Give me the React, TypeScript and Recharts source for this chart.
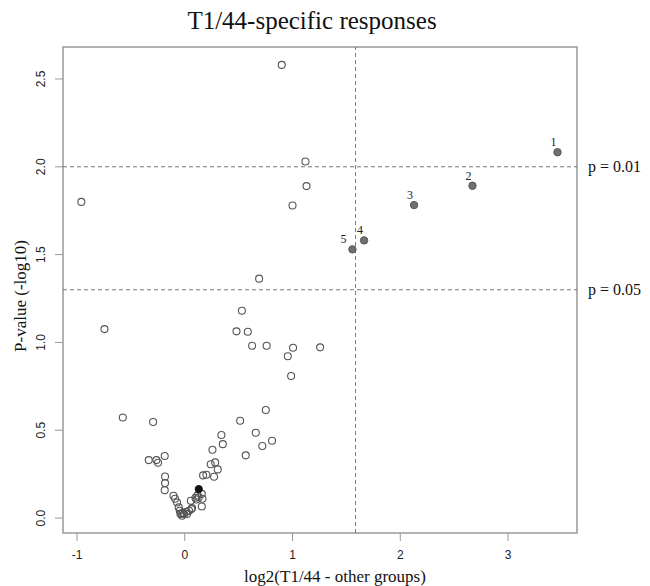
import React from "react";
import {
  ScatterChart,
  Scatter,
  XAxis,
  YAxis,
  ReferenceLine,
  ReferenceArea,
} from "recharts";

// open circles (log2 ratio, -log10 p)
const openX = [
  -0.96, 0.9, 1.12, 1.13, 1.0, -0.745, 0.69, 0.53, 0.48, 0.585, 0.625, 0.76,
  1.005, 1.256, 0.956, 0.987, 0.752, -0.575, -0.294, 0.514, 0.659, 0.566, 0.72,
  0.81, 0.34, 0.353, 0.257, 0.282, 0.241, 0.306, 0.17, 0.201, 0.272, -0.334,
  -0.263, -0.248, -0.186, -0.183, -0.183, -0.186, -0.105, -0.09, -0.071, -0.056,
  -0.046, -0.04, -0.025, -0.016, -0.03, -0.006, 0.015, 0.021, 0.04, 0.062,
  0.068, 0.056, 0.099, 0.118, 0.158, 0.164, 0.108, 0.158, 0.13,
];
const openY = [
  1.8, 2.58, 2.03, 1.89, 1.78, 1.076, 1.363, 1.18, 1.063, 1.061, 0.981, 0.981,
  0.97, 0.972, 0.921, 0.809, 0.615, 0.573, 0.547, 0.554, 0.486, 0.357, 0.41,
  0.44, 0.473, 0.421, 0.389, 0.317, 0.306, 0.277, 0.243, 0.247, 0.235, 0.33,
  0.33, 0.315, 0.353, 0.237, 0.199, 0.159, 0.127, 0.11, 0.089, 0.061, 0.042,
  0.023, 0.013, 0.03, 0.027, 0.023, 0.036, 0.023, 0.042, 0.051, 0.057, 0.099,
  0.116, 0.129, 0.138, 0.11, 0.106, 0.066, 0.118,
];

// the solid black point
const blackX = [0.13];
const blackY = [0.165];

// numbered T1/44-specific hits
const hitLabels = ["1", "2", "3", "4", "5"];
const hitX = [3.459, 2.67, 2.128, 1.664, 1.556];
const hitY = [2.083, 1.892, 1.782, 1.581, 1.53];

const xTicks = [-1, 0, 1, 2, 3];
const yTicks = [0, 0.5, 1, 1.5, 2, 2.5];
const xDomain: [number, number] = [-1.13, 3.64];
const yDomain: [number, number] = [-0.085, 2.682];

const openData = openX.map((x, i) => ({ x, y: openY[i] }));
const blackData = blackX.map((x, i) => ({ x, y: blackY[i] }));
const hitData = hitX.map((x, i) => ({ x, y: hitY[i], label: hitLabels[i] }));

const SERIF = "'Liberation Serif', 'Times New Roman', serif";
const SANS = "'Liberation Sans', Arial, sans-serif";

const OpenDot = (props: any) => (
  <circle cx={props.cx} cy={props.cy} r={3.5} fill="none" stroke="#555" strokeWidth={1.1} />
);

const BlackDot = (props: any) => (
  <circle cx={props.cx} cy={props.cy} r={3.6} fill="#111" stroke="#111" strokeWidth={1} />
);

const HitDot = (props: any) => {
  const { cx, cy, payload } = props;
  const dx = payload.label === "5" ? -9 : -4;
  return (
    <g>
      <circle cx={cx} cy={cy} r={3.7} fill="#707070" stroke="#555" strokeWidth={1} />
      <text x={cx + dx} y={cy - 6} textAnchor="middle" fontFamily={SERIF} fontSize={12} fill="#222">
        {payload.label}
      </text>
    </g>
  );
};

const XTick = (props: any) => (
  <text x={props.x} y={559} textAnchor="middle" fontFamily={SANS} fontSize={12} fill="#222">
    {props.payload.value}
  </text>
);

const YTick = (props: any) => (
  <text
    x={41}
    y={props.y}
    transform={`rotate(-90 41 ${props.y})`}
    textAnchor="middle"
    dominantBaseline="central"
    fontFamily={SANS}
    fontSize={12}
    fill="#222"
  >
    {Number(props.payload.value).toFixed(1)}
  </text>
);

const YTitle = (props: any) => {
  const vb = props.viewBox;
  const cy = vb.y + vb.height / 2 + 6;
  return (
    <text
      x={20}
      y={cy}
      transform={`rotate(-90 20 ${cy})`}
      textAnchor="middle"
      dominantBaseline="central"
      fontFamily={SERIF}
      fontSize={17}
      fill="#111"
    >
      P-value (-log10)
    </text>
  );
};

export default function App() {
  return (
    <div style={{ position: "absolute", left: 0, top: 0, width: 650, height: 586, background: "#fff" }}>
      <div
        style={{
          position: "absolute",
          left: -13,
          top: 8,
          width: 650,
          textAlign: "center",
          fontFamily: SERIF,
          fontSize: 25,
          lineHeight: "25px",
          color: "#111",
        }}
      >
        T1/44-specific responses
      </div>
      <ScatterChart width={650} height={586} margin={{ top: 47, right: 73, bottom: 0, left: 0 }}>
        <XAxis
          type="number"
          dataKey="x"
          domain={xDomain}
          ticks={xTicks}
          allowDataOverflow
          axisLine={false}
          tickLine={{ stroke: "#999" }}
          tickSize={8}
          height={53}
          tick={<XTick />}
          label={{
            value: "log2(T1/44 - other groups)",
            position: "insideBottom",
            offset: 4,
            dx: 15,
            fontFamily: SERIF,
            fontSize: 17,
            fill: "#111",
          }}
        />
        <YAxis
          type="number"
          dataKey="y"
          domain={yDomain}
          ticks={yTicks}
          allowDataOverflow
          axisLine={false}
          tickLine={{ stroke: "#999" }}
          tickSize={8}
          width={63}
          tick={<YTick />}
          label={<YTitle />}
        />
        <ReferenceArea
          x1={xDomain[0]}
          x2={xDomain[1]}
          y1={yDomain[0]}
          y2={yDomain[1]}
          fill="none"
          stroke="#999"
          strokeWidth={1.5}
          ifOverflow="extendDomain"
        />
        <ReferenceLine
          y={2}
          stroke="#777"
          strokeDasharray="4 3"
          label={{ value: "p = 0.01", position: "right", offset: 11, fontFamily: SERIF, fontSize: 16, fill: "#111" }}
        />
        <ReferenceLine
          y={1.3}
          stroke="#777"
          strokeDasharray="4 3"
          label={{ value: "p = 0.05", position: "right", offset: 11, fontFamily: SERIF, fontSize: 16, fill: "#111" }}
        />
        <ReferenceLine x={1.585} stroke="#777" strokeDasharray="4 3" />
        <Scatter data={openData} shape={<OpenDot />} isAnimationActive={false} />
        <Scatter data={blackData} shape={<BlackDot />} isAnimationActive={false} />
        <Scatter data={hitData} shape={<HitDot />} isAnimationActive={false} />
      </ScatterChart>
    </div>
  );
}
